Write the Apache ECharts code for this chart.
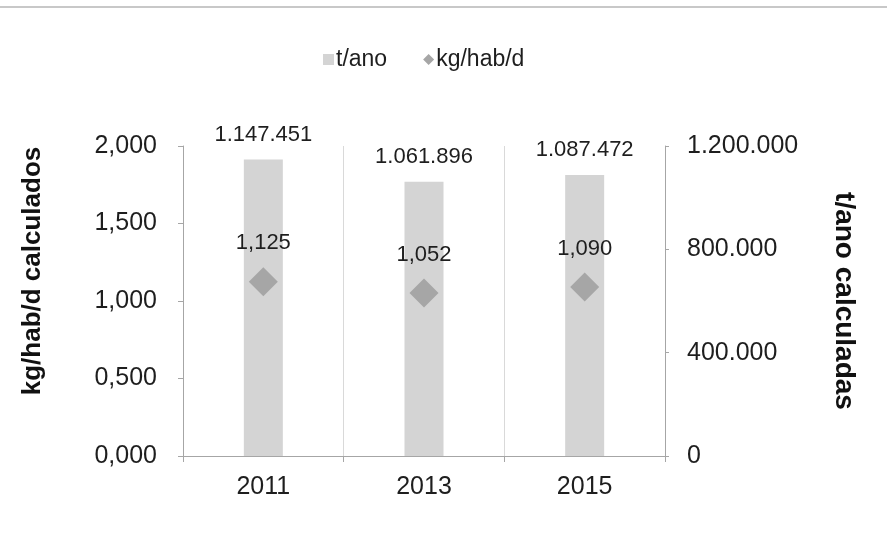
<!DOCTYPE html>
<html><head><meta charset="utf-8">
<script src="https://cdn.jsdelivr.net/npm/echarts@6/dist/echarts.min.js"></script>
<style>html,body{margin:0;padding:0;background:#fff}#c{width:887px;height:555px}</style>
</head><body><div id="c"></div>
<script>
const categories = ['2011', '2013', '2015'];
const tAno = [1147451, 1061896, 1087472];
const kgHabD = [1.125, 1.052, 1.090];
const leftTicks = [0, 0.5, 1, 1.5, 2];
const rightTicks = [0, 400000, 800000, 1200000];

const fmtDot = v => Math.round(v).toString().replace(/\B(?=(\d{3})+(?!\d))/g, '.');
const fmtComma = v => v.toFixed(3).replace('.', ',');
const F = 'Liberation Sans, Arial, sans-serif';
const TXT = '#1e1e1e';
const chart = echarts.init(document.getElementById('c'));
chart.setOption({
  animation: false,
  backgroundColor: '#fff',
  graphic: [{type:'rect', shape:{x:0,y:6,width:887,height:2}, style:{fill:'#c8c8c8'}}],
  legend: {
    top: 43, left: 318, itemGap: 36, itemWidth: 11, itemHeight: 11,
    textStyle: {fontFamily: F, fontSize: 23, color: TXT, padding: [0, 0, 0, -3]},
    data: [{name:'t/ano', icon:'rect', itemStyle: {color: '#d4d4d4'}}, {name:'kg/hab/d', icon:'diamond', itemStyle: {color: '#a6a6a6'}}]
  },
  grid: {left: 183, right: 222, top: 146, bottom: 99},
  xAxis: {
    type: 'category', data: categories,
    axisLine: {lineStyle: {color: '#a6a6a6'}},
    axisTick: {show: true, lineStyle: {color: '#a6a6a6'}, length: 6},
    splitLine: {show: true, lineStyle: {color: '#d9d9d9'}},
    axisLabel: {fontFamily: F, fontSize: 25, color: TXT, margin: 19}
  },
  yAxis: [{
    type: 'value', min: 0, max: 2, interval: 0.5, position: 'left',
    name: 'kg/hab/d calculados', nameLocation: 'middle', nameGap: 137, nameRotate: 90,
    nameTextStyle: {fontFamily: F, fontSize: 26, fontWeight: 'bold', color: '#111', padding: [0, 0, 0, 60]},
    axisLine: {show: true, lineStyle: {color: '#a6a6a6'}},
    axisTick: {show: true, length: 5, lineStyle: {color: '#a6a6a6'}},
    splitLine: {show: false},
    axisLabel: {fontFamily: F, fontSize: 25, color: TXT, margin: 26, formatter: fmtComma}
  }, {
    type: 'value', min: 0, max: 1200000, interval: 400000, position: 'right',
    name: 't/ano calculadas', nameLocation: 'middle', nameGap: 165, nameRotate: -90,
    nameTextStyle: {fontFamily: F, fontSize: 28, fontWeight: 'bold', color: '#111'},
    axisLine: {show: true, lineStyle: {color: '#a6a6a6'}},
    axisTick: {show: true, length: 4, lineStyle: {color: '#a6a6a6'}},
    splitLine: {show: false},
    axisLabel: {fontFamily: F, fontSize: 25, color: TXT, margin: 22, formatter: fmtDot}
  }],
  series: [{
    name: 't/ano', type: 'bar', yAxisIndex: 1, data: tAno, barWidth: 39,
    itemStyle: {color: '#d4d4d4'},
    label: {show: true, position: 'top', distance: 14, fontFamily: F, fontSize: 22, color: TXT, formatter: p => fmtDot(p.value)}
  }, {
    name: 'kg/hab/d', type: 'scatter', yAxisIndex: 0, data: kgHabD,
    symbol: 'diamond', symbolSize: [29, 29],
    itemStyle: {color: '#a6a6a6', opacity: 1}, z: 5,
    label: {show: true, position: 'top', distance: 13, fontFamily: F, fontSize: 22, color: TXT, opacity: 1, textBorderWidth: 0, formatter: p => fmtComma(p.value)}
  }]
});
</script></body></html>
